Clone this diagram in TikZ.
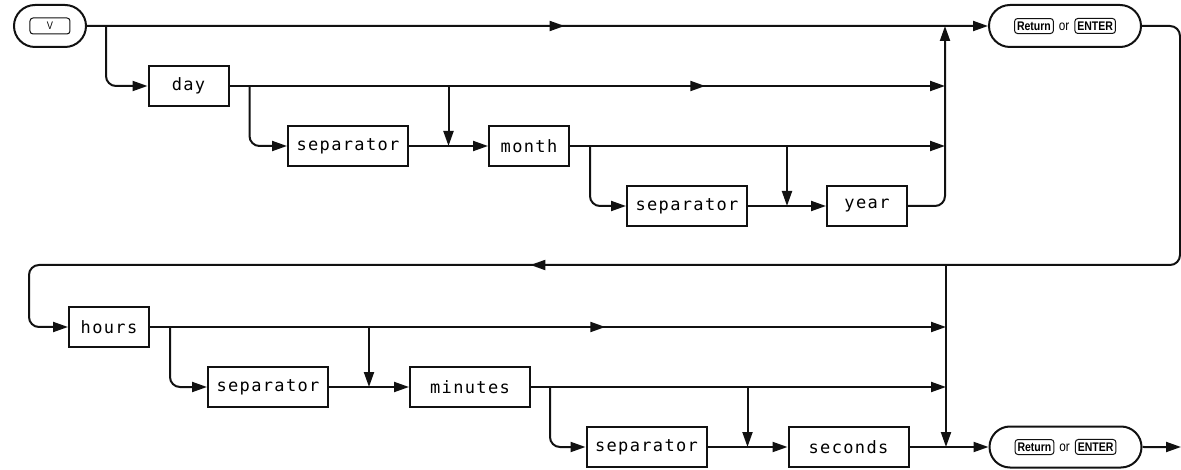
\documentclass[tikz,border=0pt]{standalone}
\usepackage{fontspec}
\usepackage{xcolor}
\usepackage{tikz}
\usetikzlibrary{arrows.meta,positioning,shapes.misc,calc,decorations.markings}
\newfontfamily\plotfont{DejaVu Sans Mono}[LetterSpace=8]
\newfontfamily\keyfont{Liberation Sans}[FakeStretch=0.84]
\definecolor{ink}{HTML}{111111}
\newcommand{\keycap}[2][]{\tikz[baseline=(k.base)]\node[keycap,#1](k){#2};}
\newcommand{\orkeys}{\keycap{Return}\hspace{5pt}or\hspace{5pt}\keycap{ENTER}}
\tikzset{
  box/.style    ={rectangle,draw=ink,line width=2pt,minimum width=80pt,minimum height=40pt,
                  inner sep=2pt,font=\plotfont\fontsize{17}{17}\selectfont},
  widebox/.style={box,minimum width=120pt},
  term/.style   ={rounded rectangle,draw=ink,line width=2pt,minimum height=41pt,
                  inner sep=4pt,font=\keyfont\fontsize{14}{14}\selectfont},
  keycap/.style ={rectangle,draw=ink,line width=1pt,rounded corners=3pt,minimum width=0pt,
                  minimum height=15pt,inner xsep=2.5pt,inner ysep=2pt,
                  font=\keyfont\bfseries\fontsize{12.5}{12.5}\selectfont},
  flow/.style   ={-{Triangle[length=15pt,width=10pt]},line width=2pt,draw=ink},
  midarr/.style ={postaction={decorate},decoration={markings,
                  mark=at position #1 with {\arrow{Triangle[length=15pt,width=10pt]}}}},
  curvy/.style  ={rounded corners=10pt}
}

\begin{document}
\begin{tikzpicture}[x=1pt,y=1pt]
    \useasboundingbox (0,0) rectangle (1181,-470);
    % date part
    \node[term,minimum width=80pt,minimum height=42pt] (vkey) at (50,-26)
         {\keycap[minimum width=40pt,minimum height=16pt,font=\keyfont\fontsize{11}{11}\selectfont]{V}};
    \node[term,minimum width=160pt,minimum height=42pt] (ret1) at (1065,-26) {\orkeys};
    \node[box] (day) at (188.5,-86) {day};
    \node[widebox] (sepa) at (348,-146) {separator};
    \node[box,right=79pt of sepa] (month) {month};
    \node[widebox] (sepb) at (687,-206) {separator};
    \node[box,right=78pt of sepb] (year) {year};
    % time part
    \node[box] (hours) at (109,-327) {hours};
    \node[widebox] (sepc) at (268,-387) {separator};
    \node[widebox,right=80pt of sepc] (minutes) {minutes};
    \node[widebox] (sepd) at (646.5,-447) {separator};
    \node[widebox,right=80pt of sepd] (seconds) {seconds};
    \node[term,minimum width=160pt,right=79pt of seconds] (ret2) {\orkeys};

    \coordinate (jn) at (945,-26);
    \coordinate (js) at (946,-447);
    \coordinate (lj) at (946,-265);
    \coordinate (lr) at (1180,-265);
    \coordinate (ll) at (29,-265);
    \coordinate (exit) at (1181,-447);
    \coordinate (ma) at ($(sepa.east)!.5!(month.west)$);
    \coordinate (mb) at ($(sepb.east)!.5!(year.west)$);
    \coordinate (mc) at ($(sepc.east)!.5!(minutes.west)$);
    \coordinate (md) at ($(sepd.east)!.5!(seconds.west)$);

    \draw[flow,midarr=0.53] (vkey) -- (ret1);
    \draw[flow,curvy] ($(vkey.east)+(19,0)$) |- (day);
    \draw[flow,midarr=0.665] (day) -- (day -| jn);
    \draw[flow,curvy] ($(day.east)+(20,0)$) |- (sepa);
    \draw[flow] (sepa) -- (month);
    \draw[flow] (ma |- day.east) -- (ma);
    \draw[flow] (month) -- (month -| jn);
    \draw[flow,curvy] ($(month.east)+(20,0)$) |- (sepb);
    \draw[flow] (sepb) -- (year);
    \draw[flow] (mb |- month.east) -- (mb);
    \draw[flow,curvy] (year) -| (jn);
    % loop back to the time part
    \draw[flow,curvy,midarr=918pt] (ret1) -| (lr) -- (ll) |- (hours);
    \draw[flow,midarr=0.572] (hours) -- (hours -| js);
    \draw[flow,curvy] ($(hours.east)+(20,0)$) |- (sepc);
    \draw[flow] (sepc) -- (minutes);
    \draw[flow] (mc |- hours.east) -- (mc);
    \draw[flow] (minutes) -- (minutes -| js);
    \draw[flow,curvy] ($(minutes.east)+(19,0)$) |- (sepd);
    \draw[flow] (sepd) -- (seconds);
    \draw[flow] (md |- minutes.east) -- (md);
    \draw[flow] (seconds) -- (ret2);
    \draw[flow] (lj) -- (js);
    \draw[flow] (ret2) -- (exit);
  \end{tikzpicture}
\end{document}
